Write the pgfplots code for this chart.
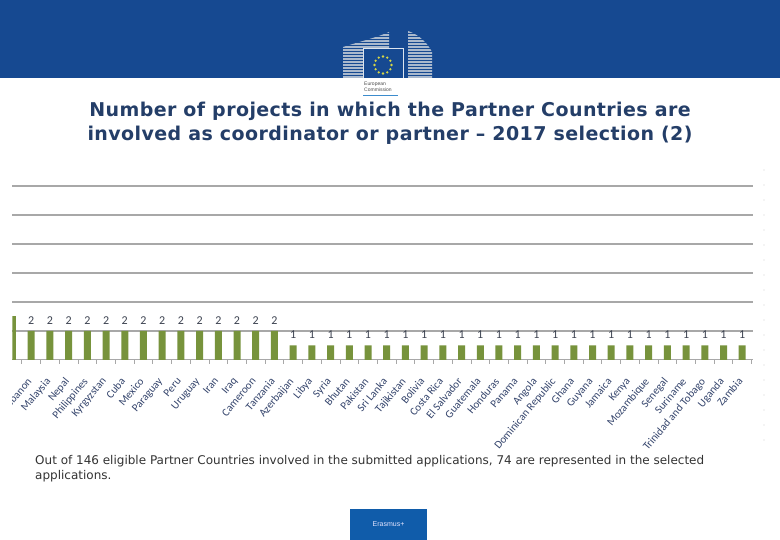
\documentclass[border=0pt]{standalone}
\usepackage{fontspec}
\setmainfont{Liberation Sans}
\newfontfamily\titlefont{DejaVu Sans}[LetterSpace=2.2]
\newfontfamily\notefont{DejaVu Sans}
\newfontfamily\calibri{Carlito}
\usepackage{pgfplots}
\pgfplotsset{compat=1.18}
\definecolor{ecblue}{RGB}{22,73,145}
\definecolor{bldg}{RGB}{170,185,205}
\definecolor{titleblue}{RGB}{36,62,104}
\definecolor{bargreen}{RGB}{119,147,60}
\definecolor{labelblue}{RGB}{52,68,108}
\definecolor{numgray}{RGB}{60,66,80}
\definecolor{gridgray}{RGB}{168,168,168}
\definecolor{erasblue}{RGB}{16,92,170}
\definecolor{ecline}{RGB}{60,140,205}
\definecolor{star}{RGB}{215,215,70}
\begin{document}
\begin{tikzpicture}[x=1pt,y=1pt]
\path[use as bounding box] (0,0) rectangle (780,540);
\clip (0,0) rectangle (780,540);
\fill[white] (0,0) rectangle (780,540);
% header band
\fill[ecblue] (0,462) rectangle (780,540);
% buildings
\begin{scope}
\clip (343,462) -- (343,493) .. controls (362,499) and (378,503) .. (389,508) -- (389,462) -- cycle;
\foreach \yy in {463,466,...,511} \draw[bldg, line width=1.2pt] (338,\yy) -- (394,\yy);
\end{scope}
\begin{scope}
\clip (408,462) -- (408,509) .. controls (420,505) and (428,496) .. (432,488) -- (432,462) -- cycle;
\foreach \yy in {463,466,...,511} \draw[bldg, line width=1.2pt] (403,\yy) -- (437,\yy);
\end{scope}
% flag square
\fill[ecblue] (363,462) rectangle (404,492);
\draw[white!85!ecblue, line width=1pt] (363.5,462) -- (363.5,491.5) -- (403.5,491.5) -- (403.5,462);
\foreach \a in {0,30,...,330} \fill[star] (383,475) ++(\a:8.5) circle (1.3);
\node[font=\fontsize{5}{6}\selectfont, align=left, text=black!70, inner sep=0pt, anchor=west] at (364,453) {European\\Commission};
\draw[ecline, line width=1.6pt] (363,444.5) -- (398,444.5);
% title
\node[font=\titlefont\bfseries\fontsize{19}{24}\selectfont, text=titleblue, align=center] at (390,416.5)
 {Number of projects in which the Partner Countries are\\involved as coordinator or partner – 2017 selection (2)};
% right dotted line
\foreach \yy in {100,115,...,370} \fill[gray!35] (764,\yy) circle (0.6);
% chart
\begin{axis}[
  at={(12.5pt,180pt)}, anchor=south west, scale only axis,
  width=740pt, height=174pt,
  xmin=0, xmax=39.55, ymin=0, ymax=12,
  /pgf/number format/assume math mode=true,
  axis x line*=bottom, axis y line*=left,
  y axis line style={draw=none},
  x axis line style={gridgray, line width=1pt, -},
  ytick={2,4,...,12}, yticklabels={}, major y tick style={draw=none},
  ymajorgrids, grid style={gridgray, line width=1.3pt},
  xtick={0,...,39},
  xticklabels={{},Lebanon,Malaysia,Nepal,Philippines,Kyrgyzstan,Cuba,Mexico,Paraguay,Peru,Uruguay,Iran,Iraq,Cameroon,Tanzania,Azerbaijan,Libya,Syria,Bhutan,Pakistan,Sri Lanka,Tajikistan,Bolivia,Costa Rica,El Salvador,Guatemala,Honduras,Panama,Angola,Dominican Republic,Ghana,Guyana,Jamaica,Kenya,Mozambique,Senegal,Suriname,Trinidad and Tobago,Uganda,Zambia},
  major x tick style={draw=none},
  minor xtick={0.5,1.5,...,39.5},
  minor x tick style={gridgray, line width=0.8pt},
  minor tick length=4pt, xtick align=outside,
  xticklabel style={xshift=-5pt, yshift=-11pt, rotate=50, anchor=north east, font=\calibri\fontsize{11}{12}\selectfont, text=labelblue, inner sep=1pt},
]
\addplot[ybar, bar width=7pt, fill=bargreen, draw=none] coordinates {(0,3)};
\addplot[ybar, bar width=7pt, fill=bargreen, draw=none,
  nodes near coords,
  nodes near coords style={font=\calibri\fontsize{12}{13}\selectfont, text=numgray, yshift=3pt}]
 table[x=x,y=y] {
x y
1 2
2 2
3 2
4 2
5 2
6 2
7 2
8 2
9 2
10 2
11 2
12 2
13 2
14 2
15 1
16 1
17 1
18 1
19 1
20 1
21 1
22 1
23 1
24 1
25 1
26 1
27 1
28 1
29 1
30 1
31 1
32 1
33 1
34 1
35 1
36 1
37 1
38 1
39 1
};
\end{axis}
% crop edge of the pasted chart
\fill[white] (0,90) rectangle (12,300);
% footnote
\node[anchor=north west, font=\notefont\fontsize{12}{15}\selectfont, text=black!80, align=left, inner sep=0pt] at (35,85)
 {Out of 146 eligible Partner Countries involved in the submitted applications, 74 are represented in the selected\\applications.};
% Erasmus+ box
\fill[erasblue] (350,0) rectangle (427,31);
\node[text=white!90!blue, font=\fontsize{7}{8}\selectfont] at (388.5,15.5) {Erasmus+};
\end{tikzpicture}
\end{document}
